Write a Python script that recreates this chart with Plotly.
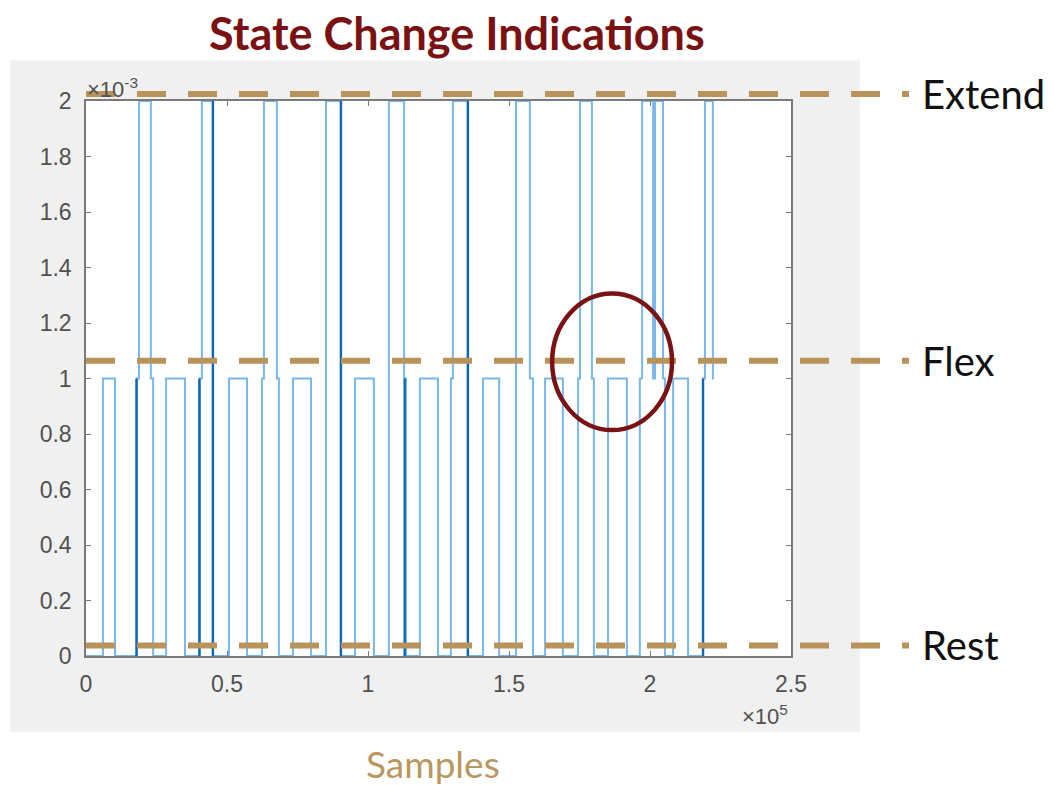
import plotly.graph_objects as go

# Classifier output: sample index where each state begins, and the state entered
REST, FLEX, EXTEND = 0.0, 0.001, 0.002
change_samples = [
    0, 6000, 10300, 18100, 18800, 23000, 23800, 28400, 35100, 40400,
    41100, 45000, 50700, 57100, 62400, 63100, 67700, 68400, 73400, 79800,
    85100, 90400, 95400, 102100, 107400, 112800, 113500, 118400, 124800, 129400,
    130100, 135500, 140800, 146500, 152500, 157400, 158500, 162800, 169100, 174500,
    175200, 179400, 180100, 185100, 191800, 196400, 197200, 201100, 201800, 204600,
    205300, 208200, 213500, 218800, 219500, 222300,
]
change_states = [
    REST, FLEX, REST, FLEX, EXTEND, FLEX, REST, FLEX, REST, FLEX,
    EXTEND, REST, FLEX, REST, FLEX, EXTEND, FLEX, REST, FLEX, REST,
    EXTEND, REST, FLEX, REST, EXTEND, FLEX, REST, FLEX, REST, FLEX,
    EXTEND, REST, FLEX, REST, EXTEND, FLEX, REST, FLEX, REST, FLEX,
    EXTEND, FLEX, REST, FLEX, REST, FLEX, EXTEND, FLEX, EXTEND, FLEX,
    REST, FLEX, REST, FLEX, EXTEND, FLEX,
]
end_sample = 222600

# Rapid toggling bursts (sample, lower state, upper state)
burst_samples = [17900, 40200, 45000, 90400, 113000, 135400, 218800]
burst_low = [REST, REST, REST, REST, REST, REST, REST]
burst_high = [FLEX, FLEX, EXTEND, EXTEND, FLEX, EXTEND, FLEX]

# Reference levels marked across the plot
level_names = ["Extend", "Flex", "Rest"]
level_values = [0.002025, 0.001064, 0.000038]

# Highlighted region (sample span, value span)
circle_x = [165300, 207800]
circle_y = [0.000814, 0.001306]

x_tick_vals = [0, 50000, 100000, 150000, 200000, 250000]
x_tick_text = ["0", "0.5", "1", "1.5", "2", "2.5"]
y_tick_vals = [i * 0.0002 for i in range(11)]
y_tick_text = ["0", "0.2", "0.4", "0.6", "0.8", "1", "1.2", "1.4", "1.6", "1.8", "2"]
Y_MAX = 0.002

TAN = "#b8935b"
DARK_RED = "#7a1214"
AXIS_GREY = "#7a7a7a"
LABEL_FAMILY = "Liberation Sans, Arial, sans-serif"
TICK_FONT = dict(family=LABEL_FAMILY, size=23, color="#505050")

step_x = change_samples + [end_sample]
step_y = change_states + [change_states[-1]]

bx, by = [], []
for s, lo, hi in zip(burst_samples, burst_low, burst_high):
    bx += [s, s, None]
    by += [lo, hi, None]

fig = go.Figure()
fig.add_trace(go.Scatter(
    x=step_x, y=step_y, mode="lines",
    line=dict(shape="hv", color="#79b8ea", width=2),
    hoverinfo="skip", showlegend=False,
))
fig.add_trace(go.Scatter(
    x=bx, y=by, mode="lines",
    line=dict(color="#0d66b6", width=2.4),
    hoverinfo="skip", showlegend=False,
))

# Figure panel and axes background
left_px, right_px, top_px, bottom_px = 86, 791, 100.5, 656.5
pw, ph = right_px - left_px, bottom_px - top_px


def px_x(p):
    return (p - left_px) / pw


def px_y(p):
    return (bottom_px - p) / ph


shapes = [
    dict(type="rect", xref="paper", yref="paper", x0=px_x(10), x1=px_x(860),
         y0=px_y(733), y1=px_y(60), fillcolor="#f0f0f0", line=dict(width=0), layer="below"),
    dict(type="rect", xref="paper", yref="paper", x0=0, x1=1, y0=0, y1=1,
         fillcolor="white", line=dict(width=0), layer="below"),
]
# level markers use paper y (value / axis max) so the top one is not clipped
for v in level_values:
    shapes.append(dict(type="line", xref="paper", yref="paper", x0=0, x1=px_x(909),
                       y0=v / Y_MAX, y1=v / Y_MAX,
                       line=dict(color=TAN, width=6, dash="29px,22px"), layer="above"))
shapes.append(dict(type="circle", xref="x", yref="y", x0=circle_x[0], x1=circle_x[1],
                   y0=circle_y[0], y1=circle_y[1], line=dict(color=DARK_RED, width=4.5)))

annotations = [
    dict(text="<b>State Change Indications</b>", xref="paper", yref="paper",
         x=px_x(457), y=px_y(32), xanchor="center", yanchor="middle", showarrow=False,
         font=dict(family="Lato, Open Sans, sans-serif", size=45, color=DARK_RED)),
    dict(text="Samples", xref="paper", yref="paper", x=px_x(433), y=px_y(764),
         xanchor="center", yanchor="middle", showarrow=False,
         font=dict(family="Lato, Open Sans, sans-serif", size=37, color="#b9975f")),
    dict(text="×10<sup>-3</sup>", xref="paper", yref="paper", x=px_x(85), y=px_y(87),
         xanchor="left", yanchor="middle", showarrow=False,
         font=dict(family=LABEL_FAMILY, size=22, color="#505050")),
    dict(text="×10<sup>5</sup>", xref="paper", yref="paper", x=px_x(790), y=px_y(716),
         xanchor="right", yanchor="middle", showarrow=False,
         font=dict(family=LABEL_FAMILY, size=22, color="#505050")),
]
for name, v in zip(level_names, level_values):
    annotations.append(dict(text=name, xref="paper", yref="paper", x=px_x(920), y=v / Y_MAX,
                            xanchor="left", yanchor="middle", showarrow=False,
                            font=dict(family="Lato, Open Sans, sans-serif", size=40, color="#111111")))

axis_common = dict(showgrid=False, zeroline=False, showline=True, linecolor=AXIS_GREY,
                   linewidth=1.5, mirror="ticks", ticks="inside", ticklen=5,
                   tickcolor=AXIS_GREY, tickwidth=1.2, tickfont=TICK_FONT)

fig.update_layout(
    width=1054, height=785,
    margin=dict(l=left_px, r=1054 - right_px, t=top_px, b=785 - bottom_px, autoexpand=False),
    paper_bgcolor="white", plot_bgcolor="white",
    xaxis=dict(range=[0, 250000], tickvals=x_tick_vals, ticktext=x_tick_text,
               ticklabelstandoff=7, **axis_common),
    yaxis=dict(range=[0, Y_MAX], tickvals=y_tick_vals, ticktext=y_tick_text,
               ticklabelstandoff=8, **axis_common),
    shapes=shapes, annotations=annotations,
)

fig.write_html("out.html")
